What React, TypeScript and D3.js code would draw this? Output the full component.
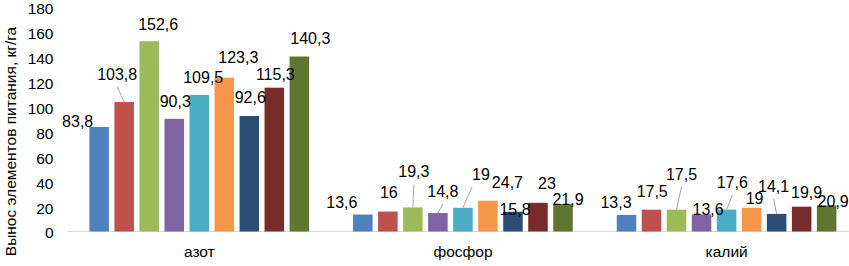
import * as d3 from 'd3';
import { useEffect, useRef } from 'react';

const categories = ['азот', 'фосфор', 'калий'];
const seriesNames = ['s1', 's2', 's3', 's4', 's5', 's6', 's7', 's8', 's9'];
const colors = ['#4F81BD', '#C0504D', '#9BBB59', '#8064A2', '#4BACC6', '#F79646', '#2C4D75', '#772C2A', '#5F7530'];

// values per category, one entry per series
const nitrogen = [83.8, 103.8, 152.6, 90.3, 109.5, 123.3, 92.6, 115.3, 140.3];
const phosphorus = [13.6, 16, 19.3, 14.8, 19, 24.7, 15.8, 23, 21.9];
const potassium = [13.3, 17.5, 17.5, 13.6, 17.6, 19, 14.1, 19.9, 20.9];
const values = [nitrogen, phosphorus, potassium];

const yTicks = [0, 20, 40, 60, 80, 100, 120, 140, 160, 180];

// label offsets from bar top centre [dx, dy, leader line]
const labelOffsets: [number, number, boolean][][] = [
    [[-21.5, 0, false], [-7, -22, true], [9, -11, false], [1, -12, false], [4, -12, false], [14, -15, false], [1, -13, false], [1, -8, false], [11, -13, false]],
    [[-21, -6.5, false], [1, -13.5, false], [1, -30, true], [5, -16, true], [18, -28, true], [19.5, -12.7, false], [2, 3, false], [9, -14, false], [5, 1, false]],
    [[-10.5, -7, false], [0.7, -12.7, false], [5, -30, true], [6.5, 0.5, false], [5.7, -21.6, true], [3, -4, false], [-3, -22, true], [5, -8.7, false], [6.5, 1.6, false]],
];

const W = 849, H = 266;
const FONT = '"Liberation Sans", Arial, sans-serif';
const LABEL_SIZE = 16;

function textWidth(s: string) {
    let w = 0;
    for (const c of s) w += c === ',' ? 0.278 : 0.556;
    return w * LABEL_SIZE;
}

export default function App() {
    const ref = useRef<SVGSVGElement>(null);

    useEffect(() => {
        const svg = d3.select(ref.current);
        svg.selectAll('*').remove();

        const x0 = d3.scaleBand().domain(categories).range([67.5, 858.5]).padding(0);
        const x1 = d3.scaleBand().domain(seriesNames).range([21.9, 241.6]).paddingInner(0.22).paddingOuter(0);
        const y = d3.scaleLinear().domain([0, 180]).range([231.5, 7]);

        // axis line
        svg.append('line')
            .attr('x1', 67.5).attr('x2', W)
            .attr('y1', y(0)).attr('y2', y(0))
            .attr('stroke', '#D9D9D9').attr('stroke-width', 1);

        // y tick labels
        svg.append('g').selectAll('text')
            .data(yTicks)
            .join('text')
            .attr('x', 53.5)
            .attr('y', (d) => y(d))
            .attr('dy', '0.45em')
            .attr('text-anchor', 'end')
            .attr('font-family', FONT)
            .attr('font-size', 15.5)
            .attr('fill', '#000')
            .text((d) => d);

        // y title
        svg.append('text')
            .attr('transform', `translate(16,141.5) rotate(-90)`)
            .attr('text-anchor', 'middle')
            .attr('font-family', FONT)
            .attr('font-size', 15.5)
            .attr('fill', '#000')
            .text('Вынос элементов питания, кг/га');

        // category labels
        svg.append('g').selectAll('text')
            .data(categories)
            .join('text')
            .attr('x', (d) => x0(d)! + x0.bandwidth() / 2)
            .attr('y', 257)
            .attr('text-anchor', 'middle')
            .attr('font-family', FONT)
            .attr('font-size', 15.5)
            .attr('fill', '#000')
            .text((d) => d);

        categories.forEach((cat, ci) => {
            const g = svg.append('g').attr('transform', `translate(${x0(cat)},0)`);
            const rows = values[ci].map((v, si) => ({ v, si, name: seriesNames[si] }));

            g.selectAll('rect')
                .data(rows)
                .join('rect')
                .attr('x', (d) => x1(d.name)!)
                .attr('y', (d) => y(d.v))
                .attr('width', x1.bandwidth())
                .attr('height', (d) => y(0) - y(d.v))
                .attr('fill', (d) => colors[d.si]);

            rows.forEach((d) => {
                const [dx, dy, leader] = labelOffsets[ci][d.si];
                const bx = x1(d.name)! + x1.bandwidth() / 2;
                const by = y(d.v);
                const lx = bx + dx;
                const ly = by + dy;
                const label = String(d.v).replace('.', ',');
                if (leader) {
                    const half = textWidth(label) / 2;
                    let sx = lx;
                    if (Math.abs(bx - lx) > half) sx = lx + Math.sign(bx - lx) * half;
                    g.append('line')
                        .attr('x1', sx).attr('y1', ly + 7)
                        .attr('x2', bx).attr('y2', by)
                        .attr('stroke', '#A6A6A6').attr('stroke-width', 1);
                }
                g.append('text')
                    .attr('x', lx)
                    .attr('y', ly)
                    .attr('text-anchor', 'middle')
                    .attr('font-family', FONT)
                    .attr('font-size', LABEL_SIZE)
                    .attr('fill', '#000')
                    .text(label);
            });
        });
    }, []);

    return <svg ref={ref} width={W} height={H} style={{ position: 'absolute', left: 0, top: 0, background: '#fff' }} />;
}
